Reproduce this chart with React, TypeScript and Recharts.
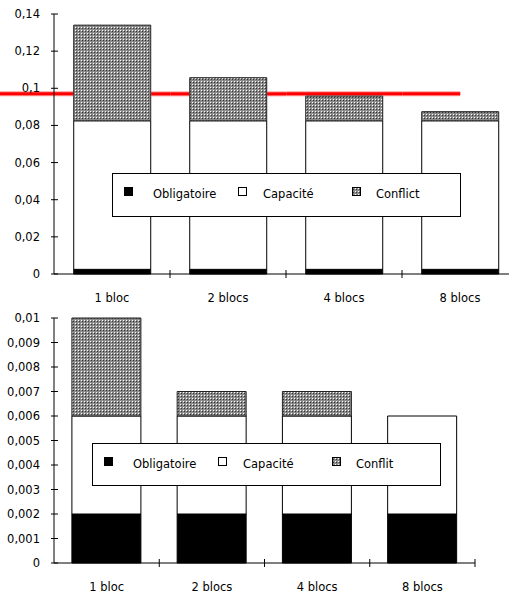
import { BarChart, Bar, XAxis, YAxis, Legend, Rectangle } from 'recharts'

const categories = ['1 bloc', '2 blocs', '4 blocs', '8 blocs']

// graphe du haut
const topObligatoire = [0.0025, 0.0025, 0.0025, 0.0025]
const topCapacite = [0.08, 0.08, 0.08, 0.08]
const topConflict = [0.0515, 0.0232, 0.0133, 0.0049]
const topTicks = [0, 0.02, 0.04, 0.06, 0.08, 0.1, 0.12, 0.14]
const topNames = ['Obligatoire', 'Capacité', 'Conflict']
const topSeuil = 0.097

// graphe du bas
const botObligatoire = [0.002, 0.002, 0.002, 0.002]
const botCapacite = [0.004, 0.004, 0.004, 0.004]
const botConflit = [0.004, 0.001, 0.001, 0]
const botTicks = [0, 0.001, 0.002, 0.003, 0.004, 0.005, 0.006, 0.007, 0.008, 0.009, 0.01]
const botNames = ['Obligatoire', 'Capacité', 'Conflit']

const FONT = '"DejaVu Sans", sans-serif'
const FS = 11.5
const Y_W = 54

const fmt = (v: number) => String(v).replace('.', ',')

const build = (a: number[], b: number[], c: number[]) =>
  categories.map((name, i) => ({ name, obl: a[i], cap: b[i], conf: c[i] }))

function PatternDef({ id }: { id: string }) {
  return (
    <pattern id={id} width="3" height="3" patternUnits="userSpaceOnUse">
      <rect width="3" height="3" fill="#8a8a8a" />
      <rect x="0" y="0" width="1" height="1" fill="#fff" />
      <rect x="1" y="1" width="1" height="1" fill="#333" />
    </pattern>
  )
}

function YTick(props: any) {
  const { x, y, payload } = props
  return (
    <g>
      <line x1={x - 3} x2={x + 4} y1={y} y2={y} stroke="#000" />
      <text x={x - 14} y={y + 4} textAnchor="end" fontSize={FS} fontFamily={FONT} fill="#000">
        {fmt(payload.value)}
      </text>
    </g>
  )
}

function XTick(props: any) {
  const { x, y, payload, band } = props
  return (
    <g>
      <line x1={x + band / 2} x2={x + band / 2} y1={y - 4} y2={y + 4} stroke="#000" />
      <text x={x} y={y + 28} textAnchor="middle" fontSize={FS} fontFamily={FONT} fill="#000">
        {payload.value}
      </text>
    </g>
  )
}

// première série de la pile : dessine aussi le trait rouge du seuil.
// Le trait est interrompu là où la pile dépasse le seuil (il passe "derrière" la barre).
function OblShape(props: any) {
  const { x, y, width, height, value, index, payload, band, count, seuil } = props
  const v = Array.isArray(value) ? value[1] - value[0] : value
  const segs: [number, number][] = []
  let ys = 0
  if (seuil !== undefined && v > 0 && height > 0) {
    ys = y + height - (seuil * height) / v
    const c = x + width / 2
    const start = index === 0 ? 0 : c - band / 2
    const end = index === count - 1 ? c : c + band / 2
    const total = payload.obl + payload.cap + payload.conf
    if (total > seuil) {
      segs.push([start, x - 0.5])
      if (end > x + width + 0.5) segs.push([x + width + 0.5, end])
    } else {
      segs.push([start, end])
    }
  }
  return (
    <g>
      <Rectangle x={x} y={y} width={width} height={height} fill="#000" stroke="#000" />
      {segs.map(([a, b], k) => (
        <g key={k}>
          <line x1={a} x2={b} y1={ys} y2={ys} stroke="#ff9a9a" strokeWidth={5} />
          <line x1={a} x2={b} y1={ys} y2={ys} stroke="#ff0000" strokeWidth={3} />
        </g>
      ))}
    </g>
  )
}

function LegendBox({ names, w, h, id }: { names: string[]; w: number; h: number; id: string }) {
  const sq = [12, 126, 240]
  const tx = [41, 151, 264]
  const fills = ['#000', '#fff', `url(#${id})`]
  return (
    <svg width={w} height={h} style={{ display: 'block' }}>
      <defs>
        <PatternDef id={id} />
      </defs>
      <rect x={0.5} y={0.5} width={w - 1} height={h - 1} fill="#fff" stroke="#000" />
      {names.map((n, i) => (
        <g key={n}>
          <rect x={sq[i] + 0.5} y={14.5} width={8} height={8} fill={fills[i]} stroke="#000" />
          <text x={tx[i]} y={25} fontSize={FS} fontFamily={FONT} fill="#000">
            {n}
          </text>
        </g>
      ))}
    </svg>
  )
}

interface ChartProps {
  width: number
  height: number
  margin: { top: number; right: number; bottom: number; left: number }
  xHeight: number
  data: { name: string; obl: number; cap: number; conf: number }[]
  ticks: number[]
  names: string[]
  legend: { left: number; top: number; width: number; height: number }
  patId: string
  seuil?: number
}

function StackChart({ width, height, margin, xHeight, data, ticks, names, legend, patId, seuil }: ChartProps) {
  const band = (width - margin.left - margin.right - Y_W) / data.length
  return (
    <BarChart width={width} height={height} data={data} margin={margin} barCategoryGap="17%">
      <defs>
        <PatternDef id={patId} />
      </defs>
      <XAxis
        dataKey="name"
        height={xHeight}
        tickSize={0}
        tickMargin={0}
        interval={0}
        axisLine={{ stroke: '#000' }}
        tickLine={false}
        tick={<XTick band={band} />}
      />
      <YAxis
        width={Y_W}
        type="number"
        domain={[ticks[0], ticks[ticks.length - 1]]}
        ticks={ticks}
        interval={0}
        tickSize={0}
        tickMargin={0}
        axisLine={{ stroke: '#000' }}
        tickLine={false}
        tick={<YTick />}
      />
      <Bar
        dataKey="obl"
        name={names[0]}
        stackId="s"
        fill="#000"
        stroke="#000"
        isAnimationActive={false}
        shape={(p: any) => <OblShape {...p} band={band} count={data.length} seuil={seuil} />}
      />
      <Bar dataKey="cap" name={names[1]} stackId="s" fill="#fff" stroke="#000" isAnimationActive={false} />
      <Bar dataKey="conf" name={names[2]} stackId="s" fill={`url(#${patId})`} stroke="#222" isAnimationActive={false} />
      <Legend
        layout="horizontal"
        verticalAlign="middle"
        align="center"
        wrapperStyle={{ position: 'absolute', ...legend }}
        content={() => <LegendBox names={names} w={legend.width} h={legend.height} id={patId + 'L'} />}
      />
    </BarChart>
  )
}

export default function App() {
  return (
    <div
      style={{
        position: 'absolute',
        left: 0,
        top: 0,
        width: 509,
        height: 599,
        overflow: 'hidden',
        background: '#fff',
        fontFamily: FONT,
      }}
    >
      <StackChart
        width={530}
        height={305}
        margin={{ top: 14, right: 12, bottom: 0, left: 0 }}
        xHeight={31}
        data={build(topObligatoire, topCapacite, topConflict)}
        ticks={topTicks}
        names={topNames}
        legend={{ left: 112, top: 173, width: 349, height: 44 }}
        patId="patTop"
        seuil={topSeuil}
      />
      <StackChart
        width={509}
        height={294}
        margin={{ top: 13, right: 34, bottom: 0, left: 0 }}
        xHeight={36}
        data={build(botObligatoire, botCapacite, botConflit)}
        ticks={botTicks}
        names={botNames}
        legend={{ left: 92, top: 138, width: 349, height: 43 }}
        patId="patBot"
      />
    </div>
  )
}
